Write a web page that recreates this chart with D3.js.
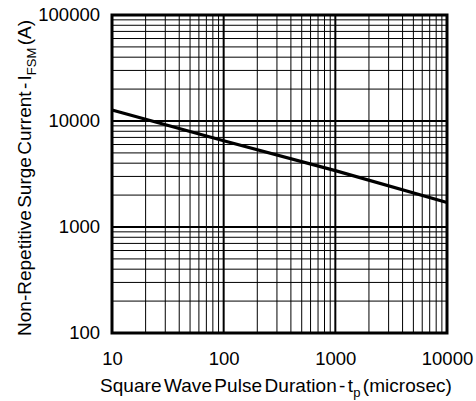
<!DOCTYPE html>
<html>
<head>
<meta charset="utf-8">
<script src="https://cdn.jsdelivr.net/npm/d3@7"></script>
<style>
  body { margin: 0; background: #fff; }
  text { font-family: "Liberation Sans", Arial, sans-serif; fill: #000; }
</style>
</head>
<body>
<div id="viz"></div>
<script>
// surge current vs pulse duration (log-log)
const pulseDuration = [10, 100, 1000, 10000];      // microsec
const surgeCurrent = [12700, 6500, 3400, 1700];     // A
const xTickValues = [10, 100, 1000, 10000];
const yTickValues = [100, 1000, 10000, 100000];

const width = 476, height = 401;
const margin = {left: 112, right: 29, top: 15, bottom: 68};

const svg = d3.select("#viz").append("svg")
  .attr("width", width)
  .attr("height", height);

const x = d3.scaleLog().domain([10, 10000]).range([margin.left, width - margin.right]);
const y = d3.scaleLog().domain([100, 100000]).range([height - margin.bottom, margin.top]);

//minor grid: 2..9 in each decade
const xMinor = [], yMinor = [];
for (let d = 10; d < 10000; d *= 10) for (let k = 2; k <= 9; k++) xMinor.push(d * k);
for (let d = 100; d < 100000; d *= 10) for (let k = 2; k <= 9; k++) yMinor.push(d * k);

const grid = svg.append("g");
grid.selectAll("line.vminor").data(xMinor).enter().append("line")
  .attr("x1", d => x(d)).attr("x2", d => x(d))
  .attr("y1", y(100)).attr("y2", y(100000))
  .attr("stroke", "#000").attr("stroke-width", 1);
grid.selectAll("line.hminor").data(yMinor).enter().append("line")
  .attr("y1", d => y(d)).attr("y2", d => y(d))
  .attr("x1", x(10)).attr("x2", x(10000))
  .attr("stroke", "#000").attr("stroke-width", 1);
//major grid lines
grid.selectAll("line.vmajor").data(xTickValues).enter().append("line")
  .attr("x1", d => x(d)).attr("x2", d => x(d))
  .attr("y1", y(100)).attr("y2", y(100000))
  .attr("stroke", "#000").attr("stroke-width", 2);
grid.selectAll("line.hmajor").data(yTickValues).enter().append("line")
  .attr("y1", d => y(d)).attr("y2", d => y(d))
  .attr("x1", x(10)).attr("x2", x(10000))
  .attr("stroke", "#000").attr("stroke-width", 2);

//frame
svg.append("rect")
  .attr("x", x(10)).attr("y", y(100000))
  .attr("width", x(10000) - x(10)).attr("height", y(100) - y(100000))
  .attr("fill", "none").attr("stroke", "#000").attr("stroke-width", 3);

//curve
const line = d3.line().x((d, i) => x(pulseDuration[i])).y(d => y(d));
svg.append("path")
  .attr("d", line(surgeCurrent))
  .attr("fill", "none").attr("stroke", "#000").attr("stroke-width", 3.2);

//axes (labels only)
const xAxis = svg.append("g")
  .attr("transform", `translate(0,${y(100)})`)
  .call(d3.axisBottom(x).tickValues(xTickValues).tickFormat(d3.format("d")).tickSize(0).tickPadding(19));
const yAxis = svg.append("g")
  .attr("transform", `translate(${x(10)},0)`)
  .call(d3.axisLeft(y).tickValues(yTickValues).tickFormat(d3.format("d")).tickSize(0).tickPadding(12));
[xAxis, yAxis].forEach(a => {
  a.select(".domain").remove();
  a.selectAll("text").style("font-size", "18.5px").attr("font-family", "Liberation Sans, Arial, sans-serif");
});

//squeeze letters so the title spans the wanted length
function fitText(t, target) {
  const node = t.node();
  const n = t.text().length;
  const natural = node.getComputedTextLength();
  t.style("letter-spacing", ((target - natural) / n) + "px");
}

//x title
const xt = svg.append("text")
  .attr("x", 276)
  .attr("y", 392)
  .attr("text-anchor", "middle")
  .style("font-size", "19px")
  .style("word-spacing", "-3px");
xt.append("tspan").text("Square Wave Pulse Duration - t");
xt.append("tspan").attr("dy", 5).style("font-size", "13px").text("p");
xt.append("tspan").attr("dy", -5).text(" (microsec)");
fitText(xt, 352);

//y title
const yt = svg.append("text")
  .attr("transform", `translate(31,178) rotate(-90)`)
  .attr("text-anchor", "middle")
  .style("font-size", "19px")
  .style("word-spacing", "-3px");
yt.append("tspan").text("Non-Repetitive Surge Current - I");
yt.append("tspan").attr("dy", 5).style("font-size", "13px").text("FSM");
yt.append("tspan").attr("dy", -5).text(" (A)");
fitText(yt, 316);
</script>
</body>
</html>
